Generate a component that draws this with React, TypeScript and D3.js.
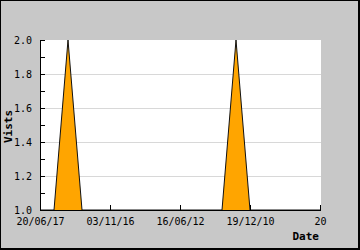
import React from "react";
import * as d3 from "d3";

const visits: number[] = [1, 1, 2, 1, 1, 1, 1, 1, 1, 1, 1, 1, 1, 1, 2, 1, 1, 1, 1, 1, 1];
const xTickIndex: number[] = [0, 5, 10, 15, 20];
const xTickLabels: string[] = ["20/06/17", "03/11/16", "16/06/12", "19/12/10", "20"];
const yMajorTicks: number[] = [1.0, 1.2, 1.4, 1.6, 1.8, 2.0];
const yMinorTicks: number[] = [1.1, 1.3, 1.5, 1.7, 1.9];

export default function App() {
  const W = 360, H = 250;
  const left = 40, right = 320, top = 40, bottom = 210;
  const x = d3.scaleLinear().domain([0, 20]).range([left, right]);
  const y = d3.scaleLinear().domain([1, 2]).range([bottom, top]);
  const area = d3.area<number>().x((_, i) => x(i)).y0(y(1)).y1((d) => y(d));
  const line = d3.line<number>().x((_, i) => x(i)).y((d) => y(d));
  const font = "'DejaVu Sans Mono', monospace";
  return (
    <svg width={W} height={H} style={{ position: "absolute", left: 0, top: 0 }}>
      <rect x={0} y={0} width={W} height={H} fill="#000" />
      <rect x={1} y={1} width={357} height={247} fill="#c8c8c8" />
      <rect x={left} y={top} width={right - left + 1} height={bottom - top} fill="#fff" />
      {yMajorTicks.filter((v) => v > 1 && v < 2).map((v) => (
        <line key={"g" + v} x1={left} x2={right + 1} y1={Math.round(y(v)) + 0.5} y2={Math.round(y(v)) + 0.5} stroke="#d8d8d8" strokeWidth={1} />
      ))}
      <path d={area(visits) ?? ""} fill="#ffa500" stroke="none" />
      <path d={line(visits) ?? ""} fill="none" stroke="#111" strokeWidth={1} />
      <line x1={left + 0.5} x2={left + 0.5} y1={top} y2={bottom + 0.5} stroke="#000" />
      <line x1={left} x2={right + 1} y1={bottom + 0.5} y2={bottom + 0.5} stroke="#000" />
      {[...yMajorTicks, ...yMinorTicks].map((v) => (
        <line key={"t" + v} x1={left} x2={left + 5} y1={Math.round(y(v)) + 0.5} y2={Math.round(y(v)) + 0.5} stroke="#000" />
      ))}
      {yMajorTicks.map((v) => (
        <text key={"l" + v} x={left - 8} y={y(v) + 4} textAnchor="end" fontFamily={font} fontSize={10} fill="#000">
          {v.toFixed(1)}
        </text>
      ))}
      {xTickIndex.map((idx, k) => (
        <g key={"x" + idx}>
          <line x1={Math.round(x(idx)) + 0.5} x2={Math.round(x(idx)) + 0.5} y1={bottom - 5} y2={bottom} stroke="#000" />
          <text x={x(idx) + 0.5} y={224.5} textAnchor="middle" fontFamily={font} fontSize={10} fill="#000">
            {xTickLabels[k]}
          </text>
        </g>
      ))}
      <text x={319} y={239.5} textAnchor="end" fontFamily={font} fontSize={11} fontWeight="bold" fill="#000">Date</text>
      <text transform="translate(12,126.5) rotate(-90)" textAnchor="middle" fontFamily={font} fontSize={11} fontWeight="bold" fill="#000">Vists</text>
    </svg>
  );
}
